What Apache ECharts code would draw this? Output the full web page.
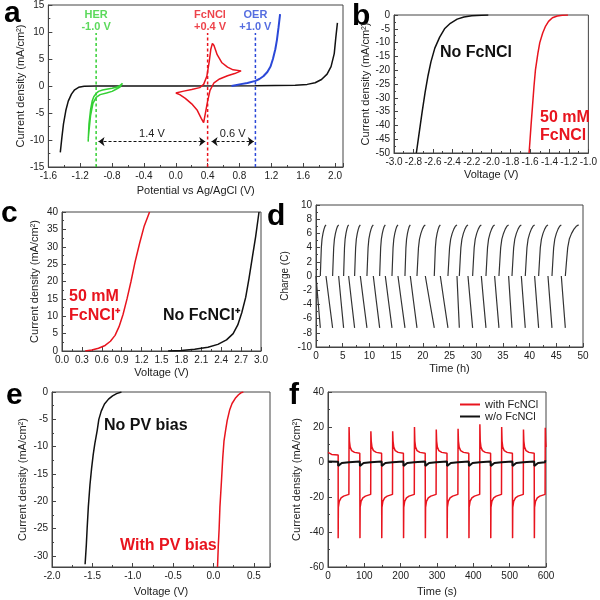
<!DOCTYPE html>
<html><head><meta charset="utf-8">
<script src="https://cdn.jsdelivr.net/npm/echarts@6/dist/echarts.min.js"></script>
<style>html,body{margin:0;padding:0;background:#fff}#c{width:600px;height:600px}</style>
</head><body><div id="c"></div>
<script>
// ---------- Panel a: CVs vs Ag/AgCl ----------
const aBlack = [[-1.45,-12.3],[-1.43,-9.5],[-1.41,-7],[-1.38,-4.5],[-1.35,-2.8],[-1.31,-1.5],[-1.27,-0.7],[-1.22,-0.25],[-1.15,-0.05],[-1.0,0],[0,0],[1.0,0.05],[1.5,0.15],[1.65,0.3],[1.75,0.6],[1.83,1.2],[1.9,2.2],[1.95,3.6],[1.99,6],[2.01,9],[2.03,11.7]];
const aGreen = [[-1.1,-10.3],[-1.09,-7],[-1.07,-4.4],[-1.05,-2.8],[-1.03,-2.0],[-1.0,-1.4],[-0.97,-1.0],[-0.92,-0.75],[-0.87,-0.6],[-0.8,-0.4],[-0.75,-0.25],[-0.7,0.1],[-0.67,0.5],[-0.7,-0.2],[-0.75,-0.6],[-0.8,-1.0],[-0.87,-1.3],[-0.95,-1.6],[-1.0,-2.1],[-1.04,-3.2],[-1.07,-5.5],[-1.1,-9.8]];
const aRed = [[0.0,-1.3],[0.1,-0.95],[0.2,-0.65],[0.3,-0.3],[0.35,0.3],[0.39,1.8],[0.42,4.5],[0.44,6.8],[0.46,7.9],[0.48,7.5],[0.52,5.8],[0.58,4.3],[0.65,3.5],[0.72,3.0],[0.82,2.8],[0.74,2.3],[0.65,1.9],[0.55,1.3],[0.48,0.6],[0.43,-0.8],[0.4,-2.8],[0.37,-5.2],[0.35,-6.8],[0.32,-6.0],[0.27,-4.5],[0.2,-3.3],[0.12,-2.3],[0.05,-1.6],[0.0,-1.3]];
const aBlue = [[0.7,0.0],[0.75,0.15],[0.8,0.3],[0.9,0.55],[1.0,0.95],[1.05,1.3],[1.1,1.8],[1.15,2.6],[1.19,3.6],[1.22,5],[1.25,6.8],[1.27,8.5],[1.29,10.8],[1.31,13.3]];
const aMarkers = [-1.0, 0.4, 1.0];           // HER, FcNCl, OER potentials
const aGaps = ['1.4 V','0.6 V'];

// ---------- Panel b ----------
const bNo = [[-2.77,-50],[-2.75,-45],[-2.73,-40],[-2.71,-35],[-2.68,-28],[-2.65,-22],[-2.62,-17],[-2.58,-12],[-2.53,-8],[-2.48,-5],[-2.42,-3],[-2.35,-1.5],[-2.28,-0.7],[-2.2,-0.25],[-2.1,-0.05],[-2.03,0]];
const bFc = [[-1.61,-50],[-1.6,-45],[-1.59,-40],[-1.575,-33],[-1.56,-26],[-1.545,-20],[-1.52,-14],[-1.5,-10],[-1.47,-6.5],[-1.44,-4],[-1.41,-2.3],[-1.37,-1],[-1.32,-0.35],[-1.27,-0.1],[-1.21,0]];

// ---------- Panel c ----------
const cFc = [[0.35,0],[0.45,0.3],[0.55,0.8],[0.65,1.6],[0.73,2.8],[0.8,4.5],[0.86,7],[0.92,10.5],[0.98,15],[1.04,20],[1.1,25.5],[1.17,31],[1.24,36],[1.32,40]];
const cNo = [[1.6,0],[1.8,0.15],[2.0,0.5],[2.2,1.1],[2.35,1.9],[2.48,3.2],[2.58,5],[2.65,7.5],[2.71,11],[2.77,15.5],[2.82,21],[2.87,27],[2.92,33],[2.97,40]];

// ---------- Panel d: charge/discharge cycling ----------
const dChargeStart = [0.81,3.11,5.17,7.23,9.54,11.92,14.23,16.66,18.91,22.15,24.71,26.84,29.33,31.83,34.26,36.70,39.19,41.69,44.19,46.69];
const dChargeEnd   = [1.87,4.24,6.11,8.30,10.73,12.98,15.35,17.66,20.47,23.28,26.40,28.46,30.96,33.45,36.07,38.45,40.94,43.44,45.94,49.18];
const dDischargeStart = [0,1.87,4.24,6.11,8.30,10.73,12.98,15.35,17.66,20.47,23.28,26.40,28.46,30.96,33.45,36.07,38.45,40.94,43.44,45.94];
const dDischargeEnd   = [0.81,3.11,5.17,7.23,9.54,11.92,14.23,16.66,18.91,22.15,24.71,26.84,29.33,31.83,34.26,36.70,39.19,41.69,44.19,46.69];
const dChargeFrac  = [0,0.1,0.18,0.3,0.47,0.65,0.82,1];      // fraction of segment time
const dChargeLevel = [0,2.3,4.0,5.2,6.0,6.6,7.0,7.2];        // charge (C)
const dDischargeFrac  = [0,0.5,1];
const dDischargeLevel = [0,-3.7,-7.3];

// ---------- Panel e ----------
const eNo = [[-1.59,-31.5],[-1.575,-28],[-1.565,-25],[-1.55,-21],[-1.53,-17],[-1.51,-14],[-1.49,-11.5],[-1.47,-9.5],[-1.44,-7],[-1.42,-5],[-1.39,-3.5],[-1.35,-2.2],[-1.3,-1.3],[-1.25,-0.7],[-1.2,-0.3],[-1.14,0]];
const eFc = [[0.05,-32],[0.06,-28],[0.07,-25],[0.08,-21],[0.1,-16],[0.115,-12],[0.13,-9],[0.15,-7],[0.17,-5.2],[0.2,-3.3],[0.23,-2.1],[0.27,-1.15],[0.31,-0.5],[0.34,-0.15],[0.37,0]];

// ---------- Panel f: chopped current ----------
const fNegT = [28,88,148,208,268,328,388,448,508,568];
const fPosT = [58,118,178,238,298,358,418,478,538,598];
const fPosPeak = [20,17.5,17.5,20,18.5,19,21.5,20,18.5,19.5];
const fNegPeak = [-43.5,-43.5,-43.5,-43.5,-43.5,-43.5,-43.5,-43.5,-43.5,-43.5];
const fRedStart = [[0,5.5],[3,4.8],[10,4.3],[28,4]];
const fRedNegOff = [0.5,3,8,15,29.5], fRedNegVal = [-26,-22.5,-20.5,-19.5,-18.5];
const fRedPosOff = [1,3,7,15,29.5],  fRedPosVal = [12,8.5,6.5,5.5,5];
const fBlkStart = [[0,0.3],[28,0.2]];
const fBlkNegOff = [0,1.5,10,29.5], fBlkNegVal = [-2.2,-1.2,-0.6,-0.1];
const fBlkPosOff = [0,3,29.5],      fBlkPosVal = [1.0,0.6,0.3];
const fEnd = 600;

// ---------- build ----------
const FONT = '"Liberation Sans", Arial, sans-serif';
const RED = '#e8141e', GREEN = '#33d033', BLUE = '#2b48d8', BLK = '#111';

function fRed(){
  const out = fRedStart.slice();
  for (let k=0;k<fNegT.length;k++){
    out.push([fNegT[k], fNegPeak[k]]);
    fRedNegOff.forEach((o,i)=>{ if (fNegT[k]+o<=fEnd) out.push([fNegT[k]+o, fRedNegVal[i]]); });
    out.push([fPosT[k], fPosPeak[k]]);
    fRedPosOff.forEach((o,i)=>{ const t=fPosT[k]+o; if (t<=fEnd) out.push([t, fRedPosVal[i]]); else if(out[out.length-1][0]<fEnd) out.push([fEnd, fRedPosVal[i]]); });
  }
  return out;
}
function fBlk(){
  const out = fBlkStart.slice();
  for (let k=0;k<fNegT.length;k++){
    fBlkNegOff.forEach((o,i)=>out.push([fNegT[k]+o, fBlkNegVal[i]]));
    fBlkPosOff.forEach((o,i)=>{ const t=fPosT[k]+o; if (t<=fEnd) out.push([t, fBlkPosVal[i]]); else if(out[out.length-1][0]<fEnd) out.push([fEnd, fBlkPosVal[i]]); });
  }
  return out;
}

function ax(gi, o){
  const a = {
    type:'value', gridIndex:gi, min:o.min, max:o.max,
    axisLine:{show:true,onZero:false,lineStyle:{color:'#444',width:1}},
    axisTick:{show:true,inside:true,length:4,lineStyle:{color:'#444'}},
    minorTick:{show:true,splitNumber:2,length:2,lineStyle:{color:'#444'}},
    splitLine:{show:false}, minorSplitLine:{show:false},
    axisLabel:{color:'#222',fontSize:o.fs||10,fontFamily:FONT,margin:4,
      showMaxLabel:o.hideMax?false:null, showMinLabel:o.hideMin?false:null,
      formatter: o.dec!=null ? (v=>v.toFixed(o.dec)) : undefined},
    name:o.name, nameLocation:'middle', nameGap:o.gap,
    nameTextStyle:{color:'#222',fontSize:o.nfs||11,fontFamily:FONT}
  };
  if (o.interval!=null) a.interval = o.interval;
  return a;
}
function line(name, gi, data, color, w){
  return {type:'line', name, xAxisIndex:gi, yAxisIndex:gi, data, showSymbol:false, symbol:'none',
    lineStyle:{color, width:w||1.5}, itemStyle:{color}, silent:true, z:3};
}

const grids = [
  {left:40, top:5, width:303, height:162},
  {left:394, top:15, width:197, height:138},
  {left:62, top:212, width:199, height:139},
  {left:316, top:205, width:267, height:142},
  {left:52, top:392, width:218, height:175},
  {left:328, top:392, width:218, height:175}
].map(g=>Object.assign({show:true,borderColor:'#444',borderWidth:1,backgroundColor:'transparent'},g));

const xAxis = [
  ax(0,{min:-1.6,max:2.1,interval:0.4,dec:1,hideMax:true,name:'Potential vs Ag/AgCl (V)',gap:18}),
  ax(1,{min:-3.0,max:-1.0,interval:0.2,dec:1,name:'Voltage (V)',gap:16}),
  ax(2,{min:0,max:3.0,interval:0.3,dec:1,name:'Voltage (V)',gap:16}),
  ax(3,{min:0,max:50,interval:5,name:'Time (h)',gap:16}),
  ax(4,{min:-2.0,max:0.7,interval:0.5,dec:1,hideMax:true,name:'Voltage (V)',gap:19}),
  ax(5,{min:0,max:600,interval:100,name:'Time (s)',gap:19})
];
const yAxis = [
  ax(0,{min:-15,max:15,interval:5,name:'Current density (mA/cm²)',gap:20}),
  ax(1,{min:-50,max:0,interval:5,name:'Current density (mA/cm²)',gap:22}),
  ax(2,{min:0,max:40,interval:5,name:'Current density (mA/cm²)',gap:22}),
  ax(3,{min:-10,max:10,interval:2,name:'Charge (C)',gap:26,nfs:10}),
  ax(4,{min:-32,max:0,hideMin:true,name:'Current density (mA/cm²)',gap:24}),
  ax(5,{min:-60,max:40,interval:20,name:'Current density (mA/cm²)',gap:26})
];

const series = [];
// panel a
series.push(line('aBlack',0,aBlack,BLK,1.5));
series.push(line('aGreen',0,aGreen,GREEN,1.5));
series.push(line('aRed',0,aRed,RED,1.5));
series.push(line('aBlue',0,aBlue,BLUE,2));
const aCols = [GREEN, RED, BLUE];
aMarkers.forEach((x,i)=>{
  series.push({type:'line',name:'mk'+i,xAxisIndex:0,yAxisIndex:0,data:[[x,-15],[x,9.8]],symbol:'none',silent:true,
    lineStyle:{color:aCols[i],width:1.5,type:[3,2.5]},z:2});
});
const aLab = [['HER','-1.0 V'],['FcNCl','+0.4 V'],['OER','+1.0 V']];
series.push({type:'scatter',name:'aLabels',xAxisIndex:0,yAxisIndex:0,symbolSize:0,silent:true,
  data: aMarkers.flatMap((x,i)=>[
    {value:[x+(i===1?0.03:0),13.1],label:{color:aCols[i],formatter:aLab[i][0]}},
    {value:[x+(i===1?0.03:0),10.9],label:{color:aCols[i],formatter:aLab[i][1]}}]),
  label:{show:true,position:'inside',fontWeight:'bold',fontSize:11,fontFamily:FONT}});
series.push({type:'line',name:'arrows',xAxisIndex:0,yAxisIndex:0,data:[],silent:true,
  markLine:{silent:true,symbol:['arrow','arrow'],symbolSize:[7,6],animation:false,
    lineStyle:{color:'#111',type:[3,2],width:1},
    label:{show:true,position:'middle',color:'#222',fontSize:11,fontFamily:FONT,distance:2},
    data:[
      [{coord:[-0.97,-10.3],name:aGaps[0]},{coord:[0.37,-10.3]}],
      [{coord:[0.45,-10.3],name:aGaps[1]},{coord:[0.98,-10.3]}]
    ].map(d=>{d[0].label={formatter:d[0].name};return d;})}});
// panel b
series.push(line('bNo',1,bNo,BLK,1.5));
series.push(line('bFc',1,bFc,RED,1.5));
// panel c
series.push(line('cFc',2,cFc,RED,1.5));
series.push(line('cNo',2,cNo,BLK,1.5));
// panel d
dChargeStart.forEach((s,i)=>{
  const e = dChargeEnd[i];
  series.push(line('dc'+i,3,dChargeFrac.map((f,j)=>[s+f*(e-s),dChargeLevel[j]]),'#333',1.2));
});
dDischargeStart.forEach((s,i)=>{
  const e = dDischargeEnd[i];
  series.push(line('dd'+i,3,dDischargeFrac.map((f,j)=>[s+f*(e-s),dDischargeLevel[j]]),'#333',1.2));
});
// panel e
series.push(line('eNo',4,eNo,BLK,1.5));
series.push(line('eFc',4,eFc,RED,1.5));
// panel f
series.push(line('with FcNCl',5,fRed(),RED,1.5));
series.push(line('w/o FcNCl',5,fBlk(),BLK,2));

function txt(x,y,t,color,size){
  return {type:'text',x,y,silent:true,style:{text:t,fill:color||'#000',font:'bold '+(size||16)+'px '+FONT,align:'left',verticalAlign:'middle'}};
}
const graphic = [
  txt(4,14,'a','#000',30), txt(352,17,'b','#000',30), txt(1,214,'c','#000',30),
  txt(267,217,'d','#000',30), txt(6,396,'e','#000',30), txt(289,396,'f','#000',30),
  txt(440,53,'No FcNCl',BLK), txt(540,118,'50 mM',RED), txt(540,136,'FcNCl',RED),
  txt(69,297,'50 mM',RED), txt(69,316,'FcNCl⁺',RED), txt(163,316,'No FcNCl⁺',BLK),
  txt(104,426,'No PV bias',BLK), txt(120,546,'With PV bias',RED)
];

const chart = echarts.init(document.getElementById('c'),null,{renderer:'canvas'});
chart.setOption({
  animation:false, backgroundColor:'#fff',
  textStyle:{fontFamily:FONT},
  grid:grids, xAxis, yAxis, series, graphic,
  legend:{data:['with FcNCl','w/o FcNCl'],orient:'vertical',left:455,top:394,itemWidth:20,itemHeight:2,itemGap:1,
    icon:'rect',textStyle:{fontSize:11,color:'#222',fontFamily:FONT},selectedMode:false}
});
</script></body></html>
